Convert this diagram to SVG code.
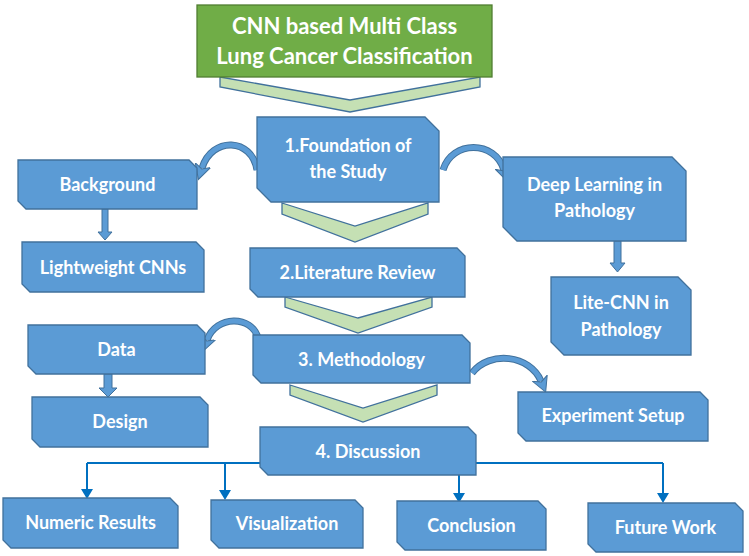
<svg xmlns="http://www.w3.org/2000/svg" width="749" height="556" viewBox="0 0 749 556">
<defs>
<style>
.box{fill:#5B9BD5;stroke:#41719C;stroke-width:1.3}
.title{fill:#70AD47;stroke:#507E32;stroke-width:1.3}
.chev{fill:#C5E0B4;stroke:#41719C;stroke-width:1.3}
.t{fill:#fff;font-family:Lato,"Open Sans","Liberation Sans",sans-serif;font-weight:bold;font-size:18px;text-anchor:middle}
.tt{fill:#fff;font-family:Lato,"Open Sans","Liberation Sans",sans-serif;font-weight:bold;font-size:22px;text-anchor:middle}
.ln{fill:none;stroke:#0070C0;stroke-width:2}
.ah{fill:#0070C0}
.blk{fill:#5B9BD5;stroke:#41719C;stroke-width:1}
.cu{fill:none;stroke:#41719C;stroke-width:7;stroke-linecap:butt}
.ci{fill:none;stroke:#5B9BD5;stroke-width:5;stroke-linecap:butt}
</style>
<marker id="cah" markerUnits="userSpaceOnUse" markerWidth="18" markerHeight="18" refX="3" refY="9" orient="auto" viewBox="0 0 18 18">
<path d="M0,1 L15,9 L0,17 L4,9 Z" fill="#5B9BD5" stroke="#41719C" stroke-width="1"/>
</marker>
</defs>

<g id="connectors">
<!-- chevrons -->
<polygon class="chev" points="220,77 350,100 480,77 480,87 350,112 220,87"/>
<polygon class="chev" points="282,203 355,226 428,203 428,214 355,242 282,214"/>
<polygon class="chev" points="285,297 358,318 432,297 432,307 358,333 285,307"/>
<polygon class="chev" points="290,385 363,408 437,385 437,395 363,422 290,395"/>
<!-- straight block arrows -->
<polygon class="blk" points="102,209 108,209 108,232 112,232 105,240 98,232 102,232"/>
<polygon class="blk" points="614,241 621,241 621,263 625,263 617.5,272 610,263 614,263"/>
<polygon class="blk" points="104,374 112,374 112,388 117,388 108,397 99,388 104,388"/>
<!-- curved arrows -->
<path class="cu" d="M257,170 C252,138 212,136 202,168"/>
<path class="ci" d="M257,170 C252,138 212,136 202,168" marker-end="url(#cah)"/>
<path class="cu" d="M443,170 C452,140 495,140 504,170"/>
<path class="ci" d="M443,170 C452,140 495,140 504,170" marker-end="url(#cah)"/>
<path class="cu" d="M258,338 C252,315 216,315 207,340"/>
<path class="ci" d="M258,338 C252,315 216,315 207,340" marker-end="url(#cah)"/>
<path class="cu" d="M472,373 C490,350 530,355 541,381"/>
<path class="ci" d="M472,373 C490,350 530,355 541,381" marker-end="url(#cah)"/>
<!-- discussion tree -->
<path class="ln" d="M87,463 H663 M87,463 V490 M225,463 V491 M459,463 V494 M663,463 V494"/>
<polygon class="ah" points="81,489 93,489 87,499"/>
<polygon class="ah" points="219,490 231,490 225,500"/>
<polygon class="ah" points="453,493 465,493 459,503"/>
<polygon class="ah" points="657,493 669,493 663,503"/>
</g>

<g id="title">
<rect class="title" x="197" y="5" width="295" height="72"/>
<text class="tt" x="344.5" y="34">CNN based Multi Class</text>
<text class="tt" x="344.5" y="64">Lung Cancer Classification</text>
</g>

<g id="foundation">
<polygon class="box" points="257,117 425,117 439,131 439,202 271,202 257,188"/>
<text class="t" x="348" y="152">1.Foundation of</text>
<text class="t" x="348" y="178">the Study</text>
</g>

<g id="literature">
<polygon class="box" points="250,248 457,248 465,256 465,297 258,297 250,289"/>
<text class="t" x="357.5" y="279">2.Literature Review</text>
</g>

<g id="methodology">
<polygon class="box" points="253,335 462,335 470,343 470,383 261,383 253,375"/>
<text class="t" x="361.5" y="366">3. Methodology</text>
</g>

<g id="discussion">
<polygon class="box" points="260,427 468,427 476,435 476,475 268,475 260,467"/>
<text class="t" x="368" y="458">4. Discussion</text>
</g>

<g id="background">
<polygon class="box" points="18,160 189,160 197,168 197,209 26,209 18,201"/>
<text class="t" x="107.5" y="191">Background</text>
</g>

<g id="lightweight">
<polygon class="box" points="22,242 196,242 204,250 204,292 30,292 22,284"/>
<text class="t" x="113" y="274">Lightweight CNNs</text>
</g>

<g id="deeplearning">
<polygon class="box" points="503,157 672,157 686,171 686,241 517,241 503,227"/>
<text class="t" x="594.5" y="191">Deep Learning in</text>
<text class="t" x="594.5" y="217">Pathology</text>
</g>

<g id="litecnn">
<polygon class="box" points="551,277 678,277 691,290 691,355 564,355 551,342"/>
<text class="t" x="621" y="309">Lite-CNN in</text>
<text class="t" x="621" y="336">Pathology</text>
</g>

<g id="data">
<polygon class="box" points="28,325 197,325 205,333 205,374 36,374 28,366"/>
<text class="t" x="116.5" y="356">Data</text>
</g>

<g id="design">
<polygon class="box" points="32,397 200,397 208,405 208,447 40,447 32,439"/>
<text class="t" x="120" y="428">Design</text>
</g>

<g id="experiment">
<polygon class="box" points="518,392 700,392 708,400 708,441 526,441 518,433"/>
<text class="t" x="613" y="422">Experiment Setup</text>
</g>

<g id="numeric">
<polygon class="box" points="3,498 170,498 178,506 178,548 11,548 3,540"/>
<text class="t" x="90.5" y="529">Numeric Results</text>
</g>

<g id="visualization">
<polygon class="box" points="211,500 355,500 363,508 363,548 219,548 211,540"/>
<text class="t" x="287" y="530">Visualization</text>
</g>

<g id="conclusion">
<polygon class="box" points="397,501 538,501 546,509 546,550 405,550 397,542"/>
<text class="t" x="471.5" y="532">Conclusion</text>
</g>

<g id="futurework">
<polygon class="box" points="588,503 735,503 743,511 743,552 596,552 588,544"/>
<text class="t" x="665.5" y="534">Future Work</text>
</g>
</svg>
